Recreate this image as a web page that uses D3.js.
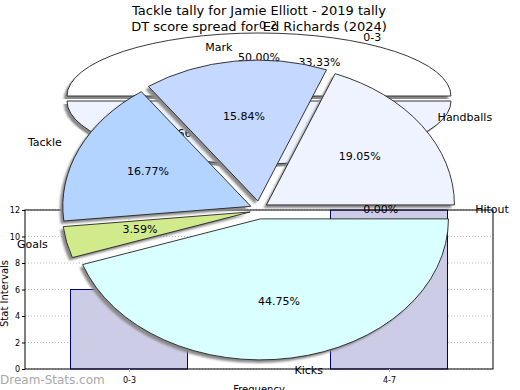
<!DOCTYPE html>
<html><head><meta charset="utf-8">
<script src="https://cdn.jsdelivr.net/npm/d3@7"></script>
<style>body{margin:0;background:#fff}svg{display:block;font-family:"DejaVu Sans",sans-serif}</style>
</head><body><svg id="c" width="520" height="390"></svg>
<script>
// ---- data ----
const titleLines = ["Tackle tally for Jamie Elliott - 2019 tally", "DT score spread for Ed Richards (2024)"];
const pieCategories = ["Kicks", "Goals", "Tackle", "Mark", "Handballs", "Hitout"];
const pieValues = [44.75, 3.59, 16.77, 15.84, 19.05, 0.00];
const pieColors = ["#d9ffff", "#d0ea8c", "#b3d4ff", "#c5d8ff", "#eef3ff", "#ffffff"];
const barCategories = ["0-3", "4-7"];
const barValues = [6, 12];
const yTicks = [0, 2, 4, 6, 8, 10, 12];
const backCategories = ["0-2", "3-5"];
const backValues = [1, 1];
const backColors = ["#ffffff", "#eef3ff"];

const svg = d3.select("#c");
const defs = svg.append("defs");
defs.append("filter").attr("id","blur").attr("x","-10%").attr("y","-10%").attr("width","120%").attr("height","120%")
  .append("feGaussianBlur").attr("stdDeviation", 1.1);

// ---- bar chart ----
const L = 25, R = 493, T = 210, B = 369;
const x = d3.scalePoint().domain(barCategories).range([L, R]).padding(0.4);
const y = d3.scaleLinear().domain([0, 12]).range([B, T]);
const bw = x.step() * 0.45;
const g = svg.append("g");
g.selectAll(".hg").data(yTicks).join("line")
  .attr("x1", L).attr("x2", R).attr("y1", d => y(d)).attr("y2", d => y(d))
  .attr("stroke", "#bbb").attr("stroke-dasharray", "1,2");
g.selectAll(".vg").data(barCategories).join("line")
  .attr("x1", d => x(d)).attr("x2", d => x(d)).attr("y1", T).attr("y2", B)
  .attr("stroke", "#bbb").attr("stroke-dasharray", "1,2");
g.selectAll(".bar").data(barCategories).join("rect")
  .attr("x", d => x(d) - bw / 2).attr("width", bw)
  .attr("y", (d, i) => y(barValues[i])).attr("height", (d, i) => B - y(barValues[i]))
  .attr("fill", "#ccccE6").attr("stroke", "#000080").attr("stroke-width", 1);
g.append("rect").attr("x", L).attr("y", T).attr("width", R - L).attr("height", B - T)
  .attr("fill", "none").attr("stroke", "#000").attr("stroke-width", 1);
const ya = g.append("g").attr("transform", `translate(${L},0)`)
  .call(d3.axisLeft(y).tickValues(yTicks).tickSize(3).tickPadding(2));
ya.select(".domain").remove();
ya.selectAll("text").attr("font-size", 8).attr("font-family", "DejaVu Sans");
const xa = g.append("g").attr("transform", `translate(0,${B})`)
  .call(d3.axisBottom(x).tickSize(3).tickPadding(5));
xa.select(".domain").remove();
xa.selectAll("line").attr("stroke", "#bbb");
xa.selectAll("text").attr("font-size", 8).attr("font-family", "DejaVu Sans");
g.append("text").attr("transform", `translate(8,${(T + B) / 2 + 4}) rotate(-90)`)
  .attr("text-anchor", "middle").attr("font-size", 10).text("Stat Intervals");
g.append("text").attr("x", 259).attr("y", 393).attr("text-anchor", "middle").attr("font-size", 10).text("Frequency");

// ---- generic exploded elliptical pie ----
function drawPie(parent, values, colors, cx, cy, rx, ry, explode, startDeg) {
  const pie = d3.pie().sort(null).value(d => d)
    .startAngle(startDeg * Math.PI / 180).endAngle(startDeg * Math.PI / 180 + 2 * Math.PI);
  const arcs = pie(values);
  const arc = d3.arc().innerRadius(0).outerRadius(rx);
  const off = a => { const m = (a.startAngle + a.endAngle) / 2; return [explode * Math.sin(m), -explode * Math.cos(m)]; };
  const sh = parent.append("g");
  arcs.forEach(a => {
    if (a.endAngle - a.startAngle < 1e-6) return;
    const [ox, oy] = off(a);
    sh.append("path").attr("d", arc(a))
      .attr("transform", `translate(${cx + ox - 3},${cy + oy + 3}) scale(1,${ry / rx})`)
      .attr("fill", "#8a8a8a").attr("filter", "url(#blur)");
  });
  const sl = parent.append("g");
  arcs.forEach((a, i) => {
    if (a.endAngle - a.startAngle < 1e-6) return;
    const [ox, oy] = off(a);
    sl.append("path").attr("d", arc(a))
      .attr("transform", `translate(${cx + ox},${cy + oy}) scale(1,${ry / rx})`)
      .attr("fill", colors[i]).attr("stroke", "#222").attr("stroke-width", 0.9)
      .attr("vector-effect", "non-scaling-stroke");
  });
  return arcs.map(a => {
    const m = (a.startAngle + a.endAngle) / 2;
    const [ox, oy] = off(a);
    return { m, ox, oy, s: Math.sin(m), c: -Math.cos(m), pct: (a.endAngle - a.startAngle) / (2 * Math.PI) * 100 };
  });
}

// ---- back pies (behind) ----
const BCX = 259, BCY = 98.5, BRX = 192, BRY = 63;
const backPie = svg.append("g");
const b1 = drawPie(backPie, backValues, backColors, BCX, BCY, BRX, BRY, 2.5, 270);
// second (bar-data) pie coincides with the first; only its labels show
const tmp = svg.append("g");
const b2 = drawPie(tmp, barValues, ["#fff", "#fff"], BCX, BCY, BRX, BRY, 0, 330);
tmp.remove();
const backLab = svg.append("g").attr("font-size", 11).attr("text-anchor", "middle").attr("dominant-baseline", "middle");
b1.forEach((d, i) => {
  backLab.append("text").attr("x", BCX + d.ox + 0.6 * BRX * d.s).attr("y", BCY + d.oy + 0.6 * BRY * d.c)
    .text(d.pct.toFixed(2) + "%");
  if (d.c < 0) backLab.append("text").attr("x", BCX + 1.15 * BRX * d.s + 9).attr("y", BCY + 1.15 * BRY * d.c)
    .text(backCategories[i]);
});
b2.forEach((d, i) => {
  backLab.append("text").attr("x", BCX + 0.63 * BRX * d.s).attr("y", BCY + 0.65 * BRY * d.c)
    .text(d.pct.toFixed(2) + "%");
  backLab.append("text").attr("x", BCX + 1.18 * BRX * d.s).attr("y", BCY + 1.1 * BRY * d.c)
    .text(barCategories[i]);
});

// ---- front pie ----
const CX = 259, CY = 210, RX = 188, RY = 141;
const front = svg.append("g");
const f = drawPie(front, pieValues, pieColors, CX, CY, RX, RY, 9, 90);
const fl = svg.append("g").attr("font-size", 11);
f.forEach((d, i) => {
  fl.append("text").attr("x", CX + d.ox + 0.6 * RX * d.s).attr("y", CY + d.oy + 0.6 * RY * d.c)
    .attr("text-anchor", "middle").attr("dominant-baseline", "middle").text(pieValues[i].toFixed(2) + "%");
  fl.append("text").attr("x", CX + 1.15 * RX * d.s).attr("y", CY + 1.157 * RY * d.c)
    .attr("text-anchor", d.s >= -0.001 ? "start" : "end").attr("dominant-baseline", "middle").text(pieCategories[i]);
});

// ---- titles & watermark ----
svg.append("g").selectAll("text").data(titleLines).join("text")
  .attr("x", 259).attr("y", (d, i) => 15 + i * 16).attr("text-anchor", "middle").attr("font-size", 13).text(d => d);
svg.append("text").attr("x", 0).attr("y", 384).attr("font-size", 12).attr("fill", "#a8a8a8").text("Dream-Stats.com");
</script></body></html>
